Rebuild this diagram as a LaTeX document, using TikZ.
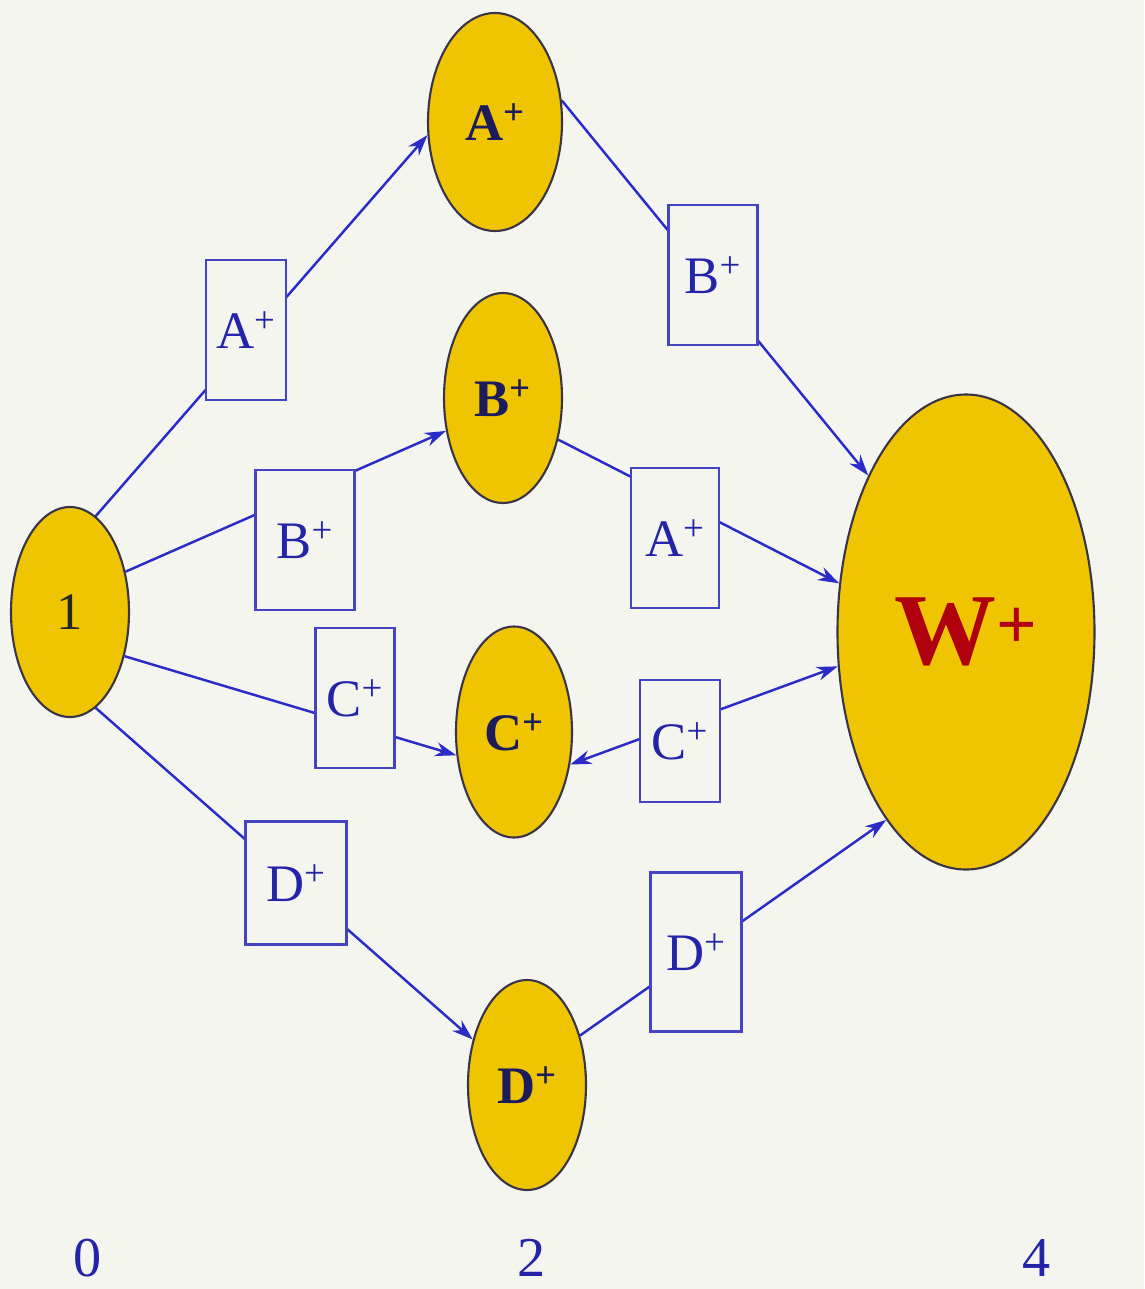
\documentclass[tikz,border=0pt]{standalone}
\usepackage{fontspec}
\setmainfont{Liberation Serif}
\usetikzlibrary{shapes.geometric,arrows.meta}
\definecolor{bgc}{HTML}{F4F5EF}
\definecolor{gold}{HTML}{EEC500}
\definecolor{rim}{HTML}{3A3448}
\definecolor{ln}{HTML}{2B2BC8}
\definecolor{bx}{HTML}{4444C0}
\definecolor{bt}{HTML}{2424A8}
\definecolor{navy}{HTML}{1C1C5C}
\definecolor{wred}{HTML}{B0000E}
\pgfdeclarelayer{bg}\pgfdeclarelayer{lines}
\pgfsetlayers{bg,lines,main}
\tikzset{
  state/.style={ellipse,draw=rim,line width=1.2pt,fill=gold,inner sep=0pt,font=\fontsize{30}{30}\selectfont\bfseries,text=navy},
  lbox/.style={rectangle,draw=bx,line width=1.2pt,fill=bgc,inner sep=0pt,font=\fontsize{30}{30}\selectfont,text=bt},
  conn/.style={draw=ln,line width=1.4pt},
  arr/.style={conn,-{Stealth[length=12pt,width=8pt]}},
  axis/.style={font=\fontsize{32}{32}\selectfont,text=bt,inner sep=0pt}
}
\newcommand{\plus}[1]{#1\textsuperscript{+}}
\begin{document}
\begin{tikzpicture}[x=0.02cm,y=-0.02cm]
\begin{pgfonlayer}{bg}
\fill[bgc] (0,0) rectangle (1144,1289);
\end{pgfonlayer}
\useasboundingbox (0,0) rectangle (1144,1289);
% states
\node[state,minimum width=118*0.02cm,minimum height=210*0.02cm,font=\fontsize{30}{30}\selectfont,text=black!85] (e1) at (70,612) {1};
\node[state,minimum width=134*0.02cm,minimum height=218*0.02cm] (eA) at (495,122) {\plus{A}};
\node[state,minimum width=118*0.02cm,minimum height=210*0.02cm] (eB) at (503,398) {\plus{B}};
\node[state,minimum width=116*0.02cm,minimum height=211*0.02cm] (eC) at (514,732) {\plus{C}};
\node[state,minimum width=118*0.02cm,minimum height=210*0.02cm] (eD) at (527,1085) {\plus{D}};
\node[state,minimum width=257*0.02cm,minimum height=475*0.02cm,font=\fontsize{58}{58}\selectfont\bfseries,text=wred] (eW) at (966,632) {\plus{W}};
% boxes
\node[lbox,minimum width=80*0.02cm,minimum height=140*0.02cm] (bA1) at (246,330) {\plus{A}};
\node[lbox,minimum width=89*0.02cm,minimum height=140*0.02cm] (bB2) at (713,275) {\plus{B}};
\node[lbox,minimum width=99*0.02cm,minimum height=140*0.02cm] (bB1) at (305,540) {\plus{B}};
\node[lbox,minimum width=88*0.02cm,minimum height=140*0.02cm] (bA2) at (675,538) {\plus{A}};
\node[lbox,minimum width=79*0.02cm,minimum height=140*0.02cm] (bC1) at (355,698) {\plus{C}};
\node[lbox,minimum width=80*0.02cm,minimum height=122*0.02cm] (bC2) at (680,741) {\plus{C}};
\node[lbox,minimum width=101*0.02cm,minimum height=123*0.02cm] (bD1) at (296,883) {\plus{D}};
\node[lbox,minimum width=91*0.02cm,minimum height=159*0.02cm] (bD2) at (696,952) {\plus{D}};
% connectors
\begin{pgfonlayer}{lines}
\draw[arr] (e1.75.6) -- (eA.191.8);
\draw[arr] (e1.36.5) -- (eB.210);
\draw[arr] (e1.321.6) -- (eC.202);
\draw[arr] (e1.285.8) -- (eD.140);
\draw[arr] (eA.18) -- (eW.122.8);
\draw[arr] (eB.323.5) -- (eW.159.5);
\draw[conn,{Stealth[length=12pt,width=8pt]}-{Stealth[length=12pt,width=8pt]}] (eC.330.4) -- (eW.195.4);
\draw[arr] (eD.43.4) -- (eW.247.7);
\end{pgfonlayer}
% axis
\node[axis] (t0) at (88,1258) {0};
\node[axis] (t2) at (532,1258) {2};
\node[axis] (t4) at (1037,1258) {4};
\end{tikzpicture}
\end{document}
